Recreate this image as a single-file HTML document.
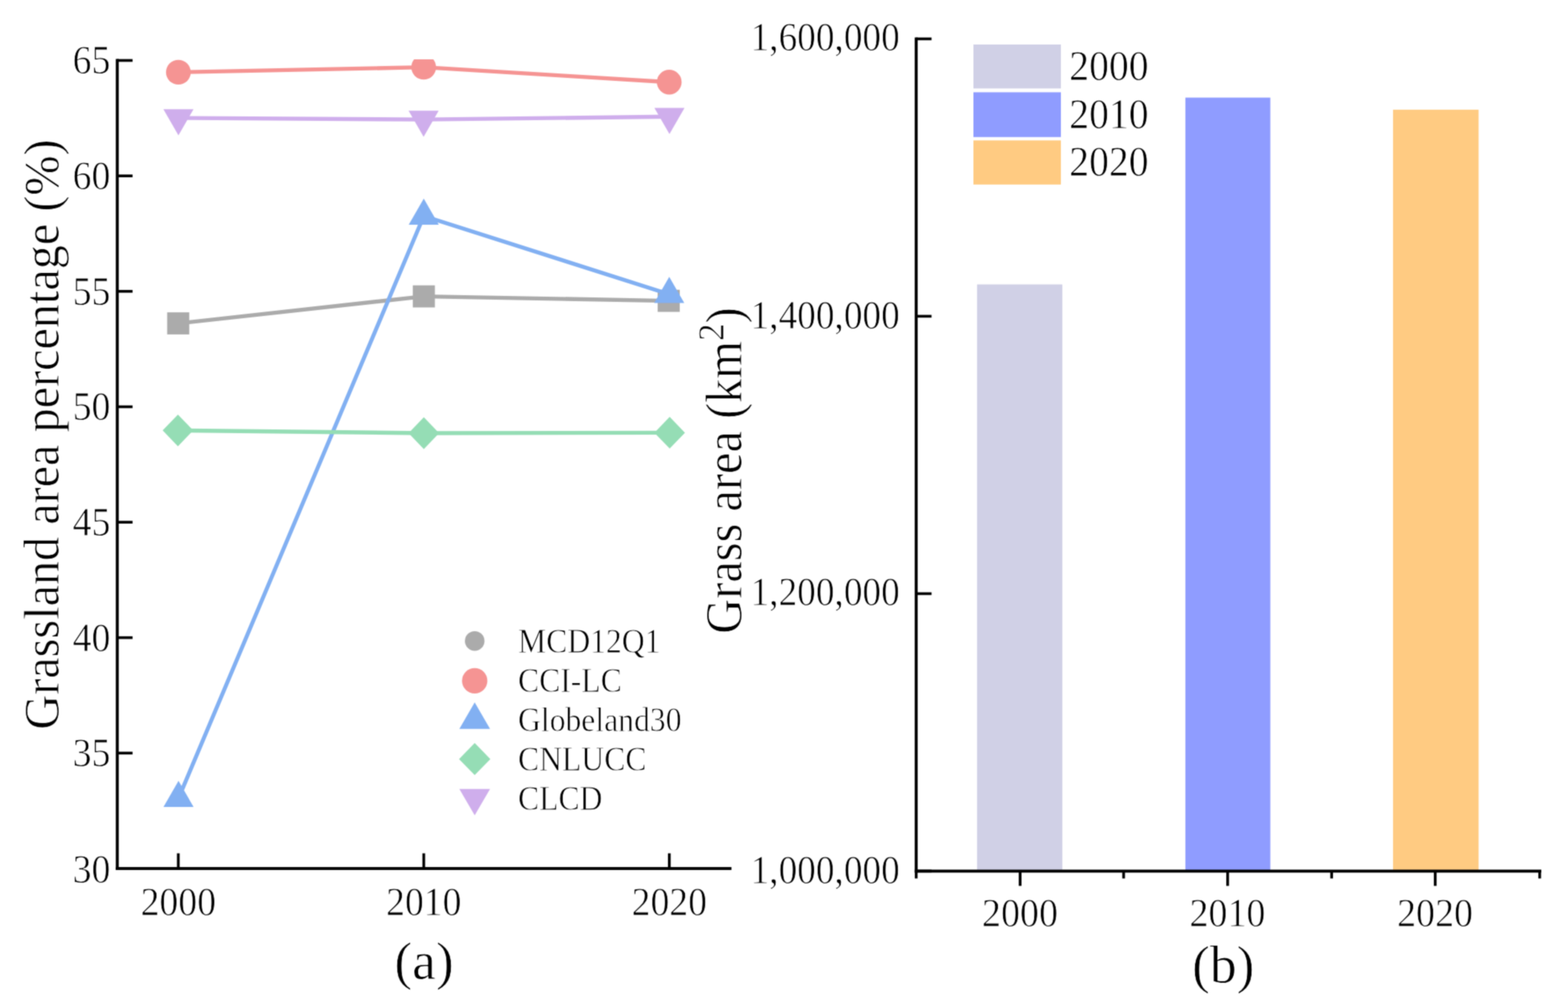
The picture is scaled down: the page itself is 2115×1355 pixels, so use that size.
<!DOCTYPE html>
<html lang="en">
<head>
<meta charset="utf-8">
<title>Grassland area percentage and grass area, 2000-2020</title>
<style>
html, body { margin: 0; padding: 0; background: #ffffff; }
body { width: 2115px; height: 1355px; }
svg { display: block; font-family: "Liberation Serif", "DejaVu Serif", serif; }
svg text { font-family: "Liberation Serif", "DejaVu Serif", serif; fill: #000; }
svg .t text { stroke: #fff; stroke-width: 0.8px; paint-order: fill stroke; stroke-linejoin: round; }
</style>
</head>
<body>
<svg width="2115" height="1355" viewBox="0 0 2115 1355">
<defs>
<filter id="soft" x="0" y="0" width="2115" height="1355" filterUnits="userSpaceOnUse" color-interpolation-filters="sRGB">
<feConvolveMatrix order="3" kernelMatrix="0.04 0.12 0.04 0.12 0.36 0.12 0.04 0.12 0.04" divisor="1" edgeMode="duplicate" preserveAlpha="true"/>
</filter>
</defs>
<g filter="url(#soft)">
<rect x="0" y="0" width="2115" height="1355" fill="#ffffff"/>
<g id="panel-a">
<clipPath id="clipA"><rect x="158.2" y="80.0" width="868.4" height="1091.0"/></clipPath>
<g clip-path="url(#clipA)">
<polyline points="240.40,436.00 571.70,399.60 902.00,405.60" fill="none" stroke="#ABABAB" stroke-width="5.4" stroke-linejoin="round"/>
<rect x="225.50" y="421.10" width="29.8" height="29.8" fill="#ABABAB"/>
<rect x="556.80" y="384.70" width="29.8" height="29.8" fill="#ABABAB"/>
<rect x="887.10" y="390.70" width="29.8" height="29.8" fill="#ABABAB"/>
<polyline points="240.60,97.40 571.50,90.60 902.70,110.70" fill="none" stroke="#F59493" stroke-width="5.4" stroke-linejoin="round"/>
<circle cx="240.6" cy="97.4" r="16.7" fill="#F59493"/>
<circle cx="571.5" cy="90.6" r="16.7" fill="#F59493"/>
<circle cx="902.7" cy="110.7" r="16.7" fill="#F59493"/>
<polyline points="240.80,1076.20 571.60,291.20 902.70,396.80" fill="none" stroke="#82B0F2" stroke-width="5.4" stroke-linejoin="round"/>
<polygon points="240.80,1052.73 261.10,1087.93 220.50,1087.93" fill="#82B0F2"/>
<polygon points="571.60,267.73 591.90,302.93 551.30,302.93" fill="#82B0F2"/>
<polygon points="902.70,373.33 923.00,408.53 882.40,408.53" fill="#82B0F2"/>
<polyline points="240.00,580.30 571.70,584.00 903.30,583.40" fill="none" stroke="#95DDB5" stroke-width="5.4" stroke-linejoin="round"/>
<polygon points="240.00,558.90 260.60,580.30 240.00,601.70 219.40,580.30" fill="#95DDB5"/>
<polygon points="571.70,562.60 592.30,584.00 571.70,605.40 551.10,584.00" fill="#95DDB5"/>
<polygon points="903.30,562.00 923.90,583.40 903.30,604.80 882.70,583.40" fill="#95DDB5"/>
<polyline points="240.70,159.00 571.40,161.10 903.00,157.30" fill="none" stroke="#CFAEEC" stroke-width="5.4" stroke-linejoin="round"/>
<polygon points="240.70,182.47 261.00,147.27 220.40,147.27" fill="#CFAEEC"/>
<polygon points="571.40,184.57 591.70,149.37 551.10,149.37" fill="#CFAEEC"/>
<polygon points="903.00,180.77 923.30,145.57 882.70,145.57" fill="#CFAEEC"/>
</g>
<g stroke="#000" stroke-width="4.0" fill="none">
<line x1="158.2" y1="79.50" x2="158.2" y2="1173.00"/>
<line x1="156.20" y1="1171.0" x2="986.6" y2="1171.0"/>
<line x1="158.2" y1="81.50" x2="178.8" y2="81.50" stroke-width="3.7"/>
<line x1="158.2" y1="237.14" x2="178.8" y2="237.14" stroke-width="3.7"/>
<line x1="158.2" y1="392.79" x2="178.8" y2="392.79" stroke-width="3.7"/>
<line x1="158.2" y1="548.43" x2="178.8" y2="548.43" stroke-width="3.7"/>
<line x1="158.2" y1="704.07" x2="178.8" y2="704.07" stroke-width="3.7"/>
<line x1="158.2" y1="859.71" x2="178.8" y2="859.71" stroke-width="3.7"/>
<line x1="158.2" y1="1015.36" x2="178.8" y2="1015.36" stroke-width="3.7"/>
<line x1="158.2" y1="1171.00" x2="178.8" y2="1171.00" stroke-width="3.7"/>
<line x1="240.5" y1="1171.0" x2="240.5" y2="1150.5" stroke-width="3.7"/>
<line x1="571.6" y1="1171.0" x2="571.6" y2="1150.5" stroke-width="3.7"/>
<line x1="902.8" y1="1171.0" x2="902.8" y2="1150.5" stroke-width="3.7"/>
</g>
<g class="t">
<text transform="translate(148.90,99.30) scale(1,1.065)" font-size="50.8" text-anchor="end">65</text>
<text transform="translate(148.90,254.94) scale(1,1.065)" font-size="50.8" text-anchor="end">60</text>
<text transform="translate(148.90,410.59) scale(1,1.065)" font-size="50.8" text-anchor="end">55</text>
<text transform="translate(148.90,566.23) scale(1,1.065)" font-size="50.8" text-anchor="end">50</text>
<text transform="translate(148.90,721.87) scale(1,1.065)" font-size="50.8" text-anchor="end">45</text>
<text transform="translate(148.90,877.51) scale(1,1.065)" font-size="50.8" text-anchor="end">40</text>
<text transform="translate(148.90,1033.16) scale(1,1.065)" font-size="50.8" text-anchor="end">35</text>
<text transform="translate(148.90,1190.00) scale(1,1.065)" font-size="50.8" text-anchor="end">30</text>
<text transform="translate(240.50,1233.90) scale(1,1.065)" font-size="50.8" text-anchor="middle">2000</text>
<text transform="translate(571.60,1233.90) scale(1,1.065)" font-size="50.8" text-anchor="middle">2010</text>
<text transform="translate(902.80,1233.90) scale(1,1.065)" font-size="50.8" text-anchor="middle">2020</text>
</g>
<g class="t">
<text transform="translate(78.80,585.80) rotate(-90) scale(1,1.045)" font-size="65" text-anchor="middle">Grassland area percentage (%)</text>
<text transform="translate(571.90,1319.60) scale(1,1.0)" font-size="72" text-anchor="middle">(a)</text>
</g>
<circle cx="640.3" cy="864.2" r="13.2" fill="#ABABAB"/>
<circle cx="640.3" cy="917.9" r="17.1" fill="#F59493"/>
<polygon points="640.30,947.07 661.00,982.67 619.60,982.67" fill="#82B0F2"/>
<polygon points="640.30,1001.80 661.40,1023.40 640.30,1045.00 619.20,1023.40" fill="#95DDB5"/>
<polygon points="640.30,1099.23 661.00,1063.63 619.60,1063.63" fill="#CFAEEC"/>
<g class="t">
<text transform="translate(698.70,879.80) scale(1,1.09)" font-size="42.7" text-anchor="start">MCD12Q1</text>
<text transform="translate(698.70,933.20) scale(1,1.09)" font-size="42.7" text-anchor="start">CCI-LC</text>
<text transform="translate(698.70,985.90) scale(1,1.09)" font-size="42.7" text-anchor="start">Globeland30</text>
<text transform="translate(698.70,1039.20) scale(1,1.09)" font-size="42.7" text-anchor="start">CNLUCC</text>
<text transform="translate(698.70,1091.80) scale(1,1.09)" font-size="42.7" text-anchor="start">CLCD</text>
</g>
</g>
<g id="panel-b">
<rect x="1317.9" y="383.5" width="115.00" height="790.90" fill="#D0D0E6"/>
<rect x="1598.9" y="131.6" width="114.60" height="1042.80" fill="#8F9CFF"/>
<rect x="1879.0" y="147.9" width="115.40" height="1026.50" fill="#FFCB82"/>
<g stroke="#000" stroke-width="4.0" fill="none">
<line x1="1235.8" y1="50.40" x2="1235.8" y2="1176.40"/>
<line x1="1233.80" y1="1174.4" x2="2079.0" y2="1174.4"/>
<line x1="1235.8" y1="52.40" x2="1256.5" y2="52.40" stroke-width="3.7"/>
<line x1="1235.8" y1="426.40" x2="1256.5" y2="426.40" stroke-width="3.7"/>
<line x1="1235.8" y1="800.40" x2="1256.5" y2="800.40" stroke-width="3.7"/>
<line x1="1235.8" y1="1174.40" x2="1256.5" y2="1174.40" stroke-width="3.7"/>
<line x1="1376.0" y1="1174.4" x2="1376.0" y2="1194.4" stroke-width="3.7"/>
<line x1="1655.9" y1="1174.4" x2="1655.9" y2="1194.4" stroke-width="3.7"/>
<line x1="1935.9" y1="1174.4" x2="1935.9" y2="1194.4" stroke-width="3.7"/>
<line x1="1235.8" y1="1174.4" x2="1235.8" y2="1184.4" stroke-width="3.7"/>
<line x1="1515.6" y1="1174.4" x2="1515.6" y2="1184.4" stroke-width="3.7"/>
<line x1="1796.2" y1="1174.4" x2="1796.2" y2="1184.4" stroke-width="3.7"/>
<line x1="2076.8" y1="1174.4" x2="2076.8" y2="1184.4" stroke-width="3.7"/>
</g>
<g class="t">
<text transform="translate(1213.60,67.70) scale(1,1.085)" font-size="50.3" text-anchor="end">1,600,000</text>
<text transform="translate(1213.60,442.90) scale(1,1.085)" font-size="50.3" text-anchor="end">1,400,000</text>
<text transform="translate(1213.60,816.10) scale(1,1.085)" font-size="50.3" text-anchor="end">1,200,000</text>
<text transform="translate(1213.60,1190.50) scale(1,1.085)" font-size="50.3" text-anchor="end">1,000,000</text>
<text transform="translate(1375.80,1248.50) scale(1,1.065)" font-size="51.2" text-anchor="middle">2000</text>
<text transform="translate(1655.70,1248.50) scale(1,1.065)" font-size="51.2" text-anchor="middle">2010</text>
<text transform="translate(1935.70,1248.50) scale(1,1.065)" font-size="51.2" text-anchor="middle">2020</text>
<text transform="translate(1000.40,634.40) rotate(-90) scale(1,1.06)" font-size="65.2" text-anchor="middle">Grass area (km<tspan font-size="47.5" dy="-23">2</tspan><tspan dy="23">)</tspan></text>
<text transform="translate(1650.00,1325.10) scale(1,1.0)" font-size="72" text-anchor="middle">(b)</text>
</g>
<rect x="1313" y="60.0" width="118" height="59.3" fill="#D0D0E6"/>
<rect x="1313" y="124.4" width="118" height="60.4" fill="#8F9CFF"/>
<rect x="1313" y="189.3" width="118" height="59.5" fill="#FFCB82"/>
<g class="t">
<text transform="translate(1442.30,107.70) scale(1,1.065)" font-size="53.5" text-anchor="start">2000</text>
<text transform="translate(1442.30,172.70) scale(1,1.065)" font-size="53.5" text-anchor="start">2010</text>
<text transform="translate(1442.30,237.40) scale(1,1.065)" font-size="53.5" text-anchor="start">2020</text>
</g>
</g>
</g>
</svg>
</body>
</html>
